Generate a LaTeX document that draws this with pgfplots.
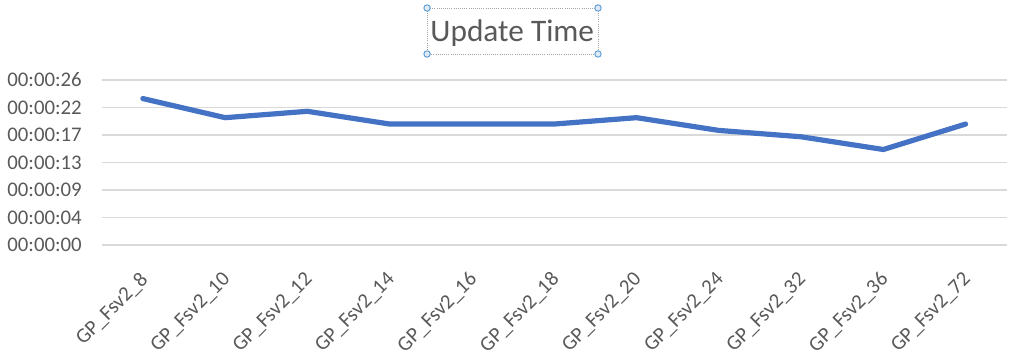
\documentclass[border=0pt]{standalone}
\usepackage{fontspec}
\setmainfont{Carlito}
\usepackage{pgfplots}
\pgfplotsset{compat=1.18}
\definecolor{txt}{HTML}{595959}
\definecolor{gridc}{HTML}{D9D9D9}
\definecolor{linec}{HTML}{4472C4}
\definecolor{handle}{HTML}{5B9BD5}
\definecolor{handlefill}{HTML}{DEEBF7}
\begin{document}
\begin{tikzpicture}
\path[use as bounding box] (-76.3pt,-88.5pt) rectangle (690.2pt,183.75pt);
\begin{axis}[
  at={(0pt,0pt)}, anchor=south west,
  scale only axis, width=678.75pt, height=123.75pt,
  xmin=-0.5, xmax=10.5, ymin=0, ymax=25.92,
  axis line style={draw=none},
  tick style={draw=none},
  ymajorgrids, grid style={color=gridc, line width=0.8pt},
  xtick={0,...,10},
  xticklabels={GP\_Fsv2\_8,GP\_Fsv2\_10,GP\_Fsv2\_12,GP\_Fsv2\_14,GP\_Fsv2\_16,GP\_Fsv2\_18,GP\_Fsv2\_20,GP\_Fsv2\_24,GP\_Fsv2\_32,GP\_Fsv2\_36,GP\_Fsv2\_72},
  ytick={0,4.32,8.64,12.96,17.28,21.6,25.92},
  yticklabels={00:00:00,00:00:04,00:00:09,00:00:13,00:00:17,00:00:22,00:00:26},
  /pgf/number format/assume math mode=true,
  tick label style={font=\fontsize{15.6}{18}\selectfont, text=txt, inner sep=0pt},
  xticklabel style={xshift=1.5pt, yshift=-23.5pt, rotate=45, anchor=east},
  yticklabel style={xshift=-14.8pt, anchor=east},
  clip=false,
]
\addplot[color=linec, line width=3.9pt, line cap=round, line join=round] coordinates {
(0,23) (1,20) (2,21) (3,19) (4,19) (5,19) (6,20) (7,18) (8,17) (9,15) (10,19)
};
\end{axis}
\draw[gray!70, densely dotted, line width=0.6pt] (244pt,143.25pt) rectangle (372.2pt,177.75pt);
\node[anchor=base, text=txt, font=\fontsize{23.5}{28}\selectfont, inner sep=0pt] at (307.9pt,152.5pt) {Update Time};
\foreach \p in {(244pt,143.25pt),(372.2pt,143.25pt),(244pt,177.75pt),(372.2pt,177.75pt)}
  \draw[handle, fill=handlefill, line width=0.7pt] \p circle (2.4pt);
\end{tikzpicture}
\end{document}
